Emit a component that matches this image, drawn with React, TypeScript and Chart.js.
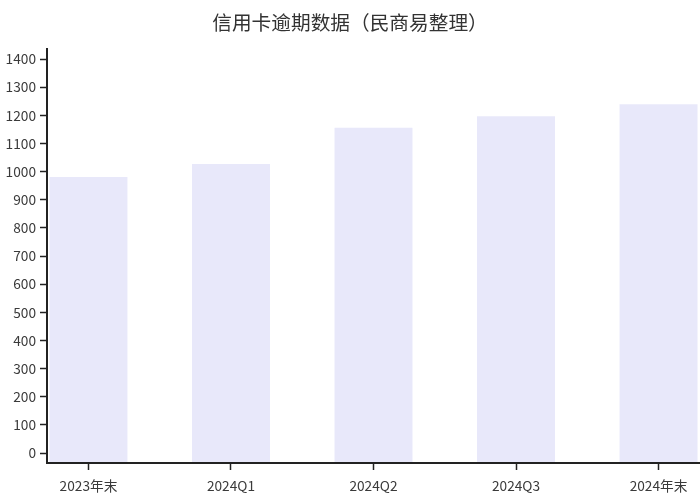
import React, { useEffect, useRef } from "react";
import { Chart, registerables } from "chart.js";

Chart.register(...registerables);

const TITLE = "信用卡逾期数据（民商易整理）";
const CATEGORIES = ["2023年末", "2024Q1", "2024Q2", "2024Q3", "2024年末"];
const VALUES = [981, 1027, 1156, 1197, 1239];
const Y_TICKS = [0, 100, 200, 300, 400, 500, 600, 700, 800, 900, 1000, 1100, 1200, 1300, 1400];
const Y_MIN = -35.5;
const Y_MAX = 1435.5;
const X_PAD = 0.291;

const FONT = "'Noto Sans CJK SC', 'Noto Sans', sans-serif";
const AXIS_COLOR = "#222";
const TEXT_COLOR = "#3a3a3a";
const BAR_COLOR = "#E8E8FA";

export default function App() {
  const ref = useRef<HTMLCanvasElement | null>(null);

  useEffect(() => {
    if (!ref.current) return;
    const chart = new Chart(ref.current, {
      type: "bar",
      data: {
        datasets: [
          {
            data: VALUES.map((v, i) => ({ x: i, y: v })),
            backgroundColor: BAR_COLOR,
            borderWidth: 0,
            base: Y_MIN,
            barPercentage: 0.547,
            categoryPercentage: 1,
          } as any,
        ],
      },
      options: {
        responsive: false,
        animation: false,
        layout: { padding: 0 },
        plugins: {
          legend: { display: false },
          tooltip: { enabled: false },
          title: {
            display: true,
            text: TITLE,
            color: "#333",
            font: { family: FONT, size: 19.7, weight: "normal" },
            padding: { top: 10.5, bottom: 14.9 },
          },
        },
        scales: {
          x: {
            type: "linear",
            offset: false,
            min: -X_PAD,
            max: CATEGORIES.length - 1 + X_PAD,
            afterBuildTicks: (scale: any) => {
              scale.ticks = CATEGORIES.map((_, i) => ({ value: i }));
            },
            afterFit: (scale: any) => {
              scale.height = 37;
            },
            ticks: {
              autoSkip: false,
              maxRotation: 0,
              color: TEXT_COLOR,
              font: { family: FONT, size: 13.7 },
              padding: 8,
              callback: (v: any) => CATEGORIES[Math.round(Number(v))] ?? "",
            },
            grid: {
              offset: false,
              drawOnChartArea: false,
              drawTicks: true,
              tickLength: 7,
              color: AXIS_COLOR,
              tickWidth: 1.5,
            },
            border: { display: true, color: AXIS_COLOR, width: 2, z: 1 },
          },
          y: {
            type: "linear",
            min: Y_MIN,
            max: Y_MAX,
            afterBuildTicks: (scale: any) => {
              scale.ticks = Y_TICKS.map((v) => ({ value: v }));
            },
            afterFit: (scale: any) => {
              scale.width = 47;
            },
            ticks: {
              color: TEXT_COLOR,
              font: { family: FONT, size: 13.7 },
              padding: 4,
              callback: (v: any) => String(v),
            },
            grid: {
              drawOnChartArea: false,
              drawTicks: true,
              tickLength: 7,
              color: AXIS_COLOR,
              tickWidth: 1.5,
            },
            border: { display: true, color: AXIS_COLOR, width: 2, z: 1 },
          },
        },
      },
    } as any);
    return () => chart.destroy();
  }, []);

  return (
    <div style={{ position: "fixed", left: 0, top: 0, width: 700, height: 500, background: "#fff" }}>
      <canvas ref={ref} width={700} height={500} style={{ display: "block" }} />
    </div>
  );
}
